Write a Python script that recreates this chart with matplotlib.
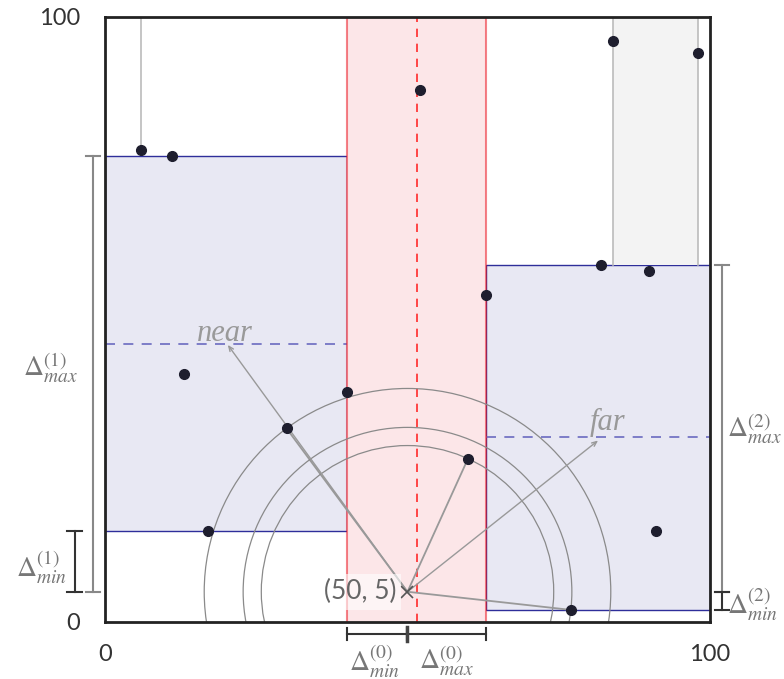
import matplotlib
matplotlib.use('Agg')
import matplotlib.pyplot as plt
import matplotlib.patches as mpatches
import numpy as np

# ===== DATA =====
PTS_X = [6, 11, 13, 17, 30, 40, 52, 63, 60, 77, 82, 90, 84, 98, 91]
PTS_Y = [78, 77, 41, 15, 32, 38, 88, 54, 27, 2, 59, 58, 96, 94, 15]
QUERY = (50, 5)
CANDIDATES = [(30, 32), (60, 27), (77, 2)]

# split band (x) and the two child cells (y ranges)
BAND_X = (40, 63)
LEFT_CELL = (0, 40, 15, 77)     # x0, x1, y0, y1
RIGHT_CELL = (63, 100, 2, 59)
GREY_CELL = (84, 98, 59, 100)
NEAR_POS = (20.3, 45.8)
FAR_POS = (81.5, 30)

plt.rcParams['mathtext.fontset'] = 'stix'

fig = plt.figure(figsize=(7.84, 6.79), dpi=100)
ax = fig.add_axes([105/784, 57/679, 605/784, 605/679])
ax.set_xlim(0, 100)
ax.set_ylim(0, 100)

# cells
for (x0, x1, y0, y1) in [LEFT_CELL, RIGHT_CELL]:
    ax.add_patch(mpatches.Rectangle((x0, y0), x1 - x0, y1 - y0, facecolor='#e8e8f3',
                                    edgecolor='#2e2e9a', lw=1, zorder=1))
    ax.plot([x0, x1], [(y0 + y1) / 2] * 2, color='#6a6ac0', lw=1.2, dashes=(6, 5), zorder=2)

gx0, gx1, gy0, gy1 = GREY_CELL
ax.add_patch(mpatches.Rectangle((gx0, gy0), gx1 - gx0, gy1 - gy0, facecolor='#f3f3f3',
                                edgecolor='none', zorder=1))
ax.plot([gx0, gx0], [gy0, gy1], color='#bbbbbb', lw=1.2, zorder=2)
ax.plot([gx1, gx1], [gy0, gy1], color='#bbbbbb', lw=1.2, zorder=2)
ax.plot([PTS_X[0], PTS_X[0]], [PTS_Y[0], 100], color='#bbbbbb', lw=1.2, zorder=2)

# split band
ax.add_patch(mpatches.Rectangle((BAND_X[0], 0), BAND_X[1] - BAND_X[0], 100, facecolor='#fce6e8',
                                edgecolor='none', zorder=2))
for bx in BAND_X:
    ax.plot([bx, bx], [0, 100], color=(0.92, 0.1, 0.15, 0.55), lw=1.5, zorder=3)
ax.plot([sum(BAND_X) / 2] * 2, [0, 100], color='#ff2a2a', lw=1.2, dashes=(5, 4), zorder=3)

# search circles and lines to candidates
qx, qy = QUERY
for cx, cy in CANDIDATES:
    r = np.hypot(cx - qx, cy - qy)
    ax.add_patch(mpatches.Circle(QUERY, r, fill=False, edgecolor='#8a8a8a', lw=0.9, zorder=4))
    ax.plot([qx, cx], [qy, cy], color='#999999', lw=1.3, zorder=4)

for pos in [NEAR_POS, FAR_POS]:
    ax.annotate('', xy=pos, xytext=QUERY,
                arrowprops=dict(arrowstyle='->,head_length=0.35,head_width=0.15',
                                color='#999999', lw=1, shrinkA=0, shrinkB=0),
                zorder=4)
ax.text(NEAR_POS[0] - 0.5, NEAR_POS[1] - 0.5, 'near', fontsize=22, family='Liberation Serif',
        style='italic', color='#999999', ha='center', va='bottom', zorder=5)
ax.text(FAR_POS[0] + 1.5, FAR_POS[1] + 0.6, 'far', fontsize=22, family='Liberation Serif',
        style='italic', color='#999999', ha='center', va='bottom', zorder=5)

# points
ax.plot(PTS_X, PTS_Y, 'o', color='#1e1e2e', ms=7, zorder=6)
ax.plot(qx, qy, 'x', color='#555555', ms=9, mew=1.2, zorder=6)
ax.text(qx - 1.9, qy, '(50, 5)', fontsize=19, family='Lato', color='#666666', ha='right',
        va='center', zorder=7,
        bbox=dict(boxstyle='square,pad=0.2', facecolor='white', edgecolor='none', alpha=0.6))

# delta brackets
def bracket_v(x, y0, y1, color, cap=1.2):
    ax.plot([x, x], [y0, y1], color=color, lw=1.5, clip_on=False)
    for y in (y0, y1):
        ax.plot([x - cap, x + cap], [y, y], color=color, lw=1.5, clip_on=False)

def bracket_h(y, x0, x1, color, cap=1.0):
    ax.plot([x0, x1], [y, y], color=color, lw=1.5, clip_on=False)
    for x in (x0, x1):
        ax.plot([x, x], [y - cap, y + cap], color=color, lw=1.5, clip_on=False)

lx0, lx1, ly0, ly1 = LEFT_CELL
rx0, rx1, ry0, ry1 = RIGHT_CELL
bracket_v(-2.0, qy, ly1, '#888888')
bracket_v(-5.0, qy, ly0, '#333333')
bracket_v(102.0, qy, ry1, '#888888')
bracket_v(102.0, ry0, qy, '#333333')
bracket_h(-2.0, BAND_X[0], qx, '#333333')
bracket_h(-2.0, qx, BAND_X[1], '#333333')
ax.plot([qx, qx], [-3.2, -0.8], color='#444444', lw=2.5, clip_on=False)

lab = dict(fontsize=20, color='#777777', ha='center', va='center')
ax.text(-9.0, 42.0, r'$\Delta^{(1)}_{max}$', **lab)
ax.text(-10.5, 9.0, r'$\Delta^{(1)}_{min}$', **lab)
ax.text(107.4, 32.0, r'$\Delta^{(2)}_{max}$', **lab)
ax.text(107.0, 3.0, r'$\Delta^{(2)}_{min}$', **lab)
ax.text(44.6, -6.4, r'$\Delta^{(0)}_{min}$', **lab)
ax.text(56.4, -6.4, r'$\Delta^{(0)}_{max}$', **lab)

# axes frame and end ticks
for s in ax.spines.values():
    s.set_linewidth(2)
    s.set_color('#222222')
    s.set_zorder(8)
ax.set_xticks([0, 100])
ax.set_yticks([0, 100])
ax.set_xticklabels(['0', '100'], fontsize=17, family='Lato', color='#333333')
ax.set_yticklabels(['0', '100'], fontsize=17, family='Lato', color='#333333')
ax.tick_params(length=0)
ax.tick_params(axis='x', pad=16)
ax.tick_params(axis='y', pad=18)

plt.savefig('out.png', dpi=100)
